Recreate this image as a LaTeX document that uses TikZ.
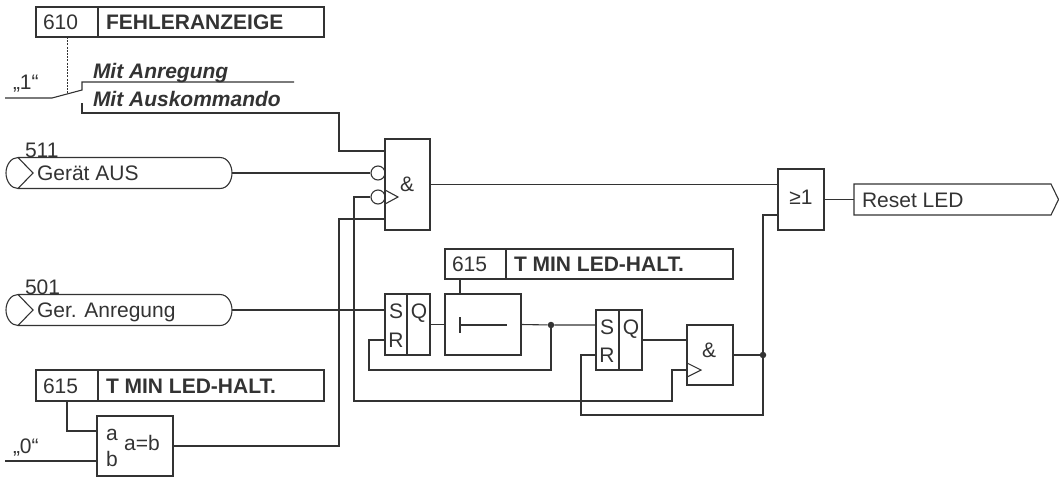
\documentclass[tikz,border=0pt]{standalone}
\usepackage{fontspec}
\setmainfont{Liberation Sans}
\definecolor{ink}{HTML}{333333}
\newcommand{\bx}[6][]{%
  \pgfmathsetmacro{\bxc}{(#3+#5)/2}\pgfmathsetmacro{\byc}{(#4+#6)/2}%
  \pgfmathsetmacro{\bxw}{#5-#3}\pgfmathsetmacro{\byh}{#6-#4}%
  \node[blk,minimum width=\bxw pt,minimum height=\byh pt,#1] (#2) at (\bxc,\byc) {};}
\newcommand{\pill}[4]{% name, mid y, number, text
  \bx[draw=none]{#1}{6}{#2-15.5}{232}{#2+15.5}
  \draw[wire] (18,#2-15.5) -- (220,#2-15.5) .. controls (228,#2-15.5) and (232,#2-7) .. (232,#2)
     .. controls (232,#2+7) and (228,#2+15.5) .. (220,#2+15.5) -- (18,#2+15.5)
     .. controls (11,#2+15.5) and (6,#2+8) .. (6,#2) .. controls (6,#2-8) and (11,#2-15.5) .. (18,#2-15.5)
     -- (33,#2) -- (18,#2+15.5);
  \node[txt] (#1n) at (25,#2-16) {#3};
  \node[txt] (#1t) at (37,#2+7.5) {#4};}
\begin{document}
\begin{tikzpicture}[x=1pt,y=-1pt,
  blk/.style={draw=ink,line width=1.1pt,inner sep=0pt,outer sep=0pt,rectangle},
  wire/.style={draw=ink,line width=1.1pt,line join=miter},
  txt/.style={anchor=base west,inner sep=0pt,outer sep=0pt,text=ink,font=\fontsize{21}{24}\selectfont},
  btxt/.style={txt,font=\fontsize{21}{24}\selectfont\bfseries},
  bitxt/.style={txt,font=\fontsize{21}{24}\selectfont\bfseries\itshape},
  ctxt/.style={txt,anchor=base},
  bullet/.style={circle,fill=ink,inner sep=0pt,minimum size=6.5pt},
  bub/.style={circle,draw=ink,line width=1.1pt,inner sep=0pt,minimum size=14pt}]
\useasboundingbox (0,0) rectangle (1059,477);

% parameter boxes
\bx{p610a}{36}{7}{98}{37} \bx{p610b}{98}{7}{324}{37}
\node[txt] (p610n) at (43,29) {610};
\node[btxt] (p610t) at (106,29) {FEHLERANZEIGE};
\bx{p615a}{36}{370}{98}{401} \bx{p615b}{98}{370}{324}{401}
\node[txt] (p615n) at (43,393) {615};
\node[btxt] (p615t) at (106,393) {T MIN LED-HALT.};
\bx{q615a}{445}{249}{506}{279} \bx{q615b}{506}{249}{733}{279}
\node[txt] (q615n) at (452,271) {615};
\node[btxt] (q615t) at (514,271) {T MIN LED-HALT.};

% switch
\coordinate (one) at (5,98); \coordinate (piv) at (52,98); \coordinate (con) at (82,90);
\coordinate (up) at (82,82); \coordinate (upe) at (294,82);
\coordinate (lo) at (82,103); \coordinate (dot) at (67,93);
\node[txt] (q1) at (13,89) {„1“};
\node[bitxt] (mit1) at (93,78) {Mit Anregung};
\node[bitxt] (mit2) at (93,106) {Mit Auskommando};
\draw[wire] (one) -- (piv) -- (con) -- (up) -- (upe);
\draw[wire,line width=1pt,dash pattern=on 2pt off 1.2pt] (p610a.south) -- (dot);

% inputs
\pill{in1}{173}{511}{Gerät AUS}
\pill{in2}{310}{501}{Ger. Anregung}

% gates
\bx{and1}{385}{139}{430}{230} \node[ctxt] (and1t) at (407,191) {\&};
\node[bub] (b1) at (378,173) {};
\node[bub] (b2) at (378,197) {};
\coordinate (t1) at (398,197);
\draw[wire] (385,190) -- (t1) -- (385,204);

\bx{sr1}{385}{294}{430}{355}
\draw[wire] (407,294) -- (407,355);
\node[ctxt] (sr1s) at (396,318) {S}; \node[ctxt] (sr1r) at (396,347) {R}; \node[ctxt] (sr1q) at (419,318) {Q};
\bx{tim}{445}{294}{521}{355}
\coordinate (ta) at (460,325); \coordinate (tb) at (507,325);
\draw[wire] (ta) -- (tb) (460,317) -- (460,333);

\bx{sr2}{596}{310}{642}{370}
\draw[wire] (619,310) -- (619,370);
\node[ctxt] (sr2s) at (607,334) {S}; \node[ctxt] (sr2r) at (607,362) {R}; \node[ctxt] (sr2q) at (631,334) {Q};

\bx{and2}{687}{325}{733}{385} \node[ctxt] (and2t) at (709,357) {\&};
\coordinate (t2) at (701,370);
\draw[wire] (687,363) -- (t2) -- (687,377);

\bx{or1}{778}{169}{824}{230} \node[ctxt] (or1t) at (801,204) {≥1};

\bx{cmp}{97}{416}{173}{476}
\node[ctxt] (cmpa) at (112,440) {a}; \node[ctxt] (cmpb) at (112,466) {b}; \node[ctxt] (cmpe) at (142,450) {a=b};

% output
\bx[draw=none]{out}{854}{184}{1059}{215}
\draw[wire] (854,184) -- (1051,184) -- (1058.5,199.5) -- (1051,215) -- (854,215) -- cycle;
\node[txt] (outt) at (862,207) {Reset LED};

% junctions
\node[bullet] (j1) at (551,325) {};
\node[bullet] (j2) at (763,355) {};

% zero
\coordinate (zero) at (5,461);
\node[txt] (q0) at (13,453) {„0“};

% connectors
\draw[wire] (lo) -- (82,113) -- (339,113) -- (339,151) -- (and1.west |- 0,151);
\draw[wire] (in1.east) -- (b1.west);
\draw[wire] (b2.west) -- (354,197) -- (354,401) -- (672,401) -- (672,370) -- (and2.west |- t2);
\draw[wire] (and1.west |- 0,219) -- (339,219) -- (339,446) -- (cmp.east |- 0,446);
\draw[wire] (and1.east) -- (or1.west |- and1.east);
\draw[wire] (in2.east) -- (sr1.west |- in2.east);
\draw[wire] (sr1.west |- 0,340) -- (369,340) -- (369,370) -- (551,370) -- (j1);
\draw[wire] (sr1.east |- tim.west) -- (tim.west);
\draw[wire] (q615a.south -| ta) -- (tim.north -| ta);
\draw[wire] (tim.east) -- (j1) -- (sr2.west |- j1);
\draw[wire] (sr2.west |- 0,355) -- (581,355) -- (581,415) -- (763,415) -- (j2);
\draw[wire] (sr2.east |- 0,340) -- (and2.west |- 0,340);
\draw[wire] (and2.east) -- (j2) -- (763,215) -- (or1.west |- 0,215);
\draw[wire] (or1.east |- out.west) -- (out.west);
\draw[wire] (p615a.south) -- (67,431) -- (cmp.west |- 0,431);
\draw[wire] (zero) -- (cmp.west |- zero);
\end{tikzpicture}
\end{document}
